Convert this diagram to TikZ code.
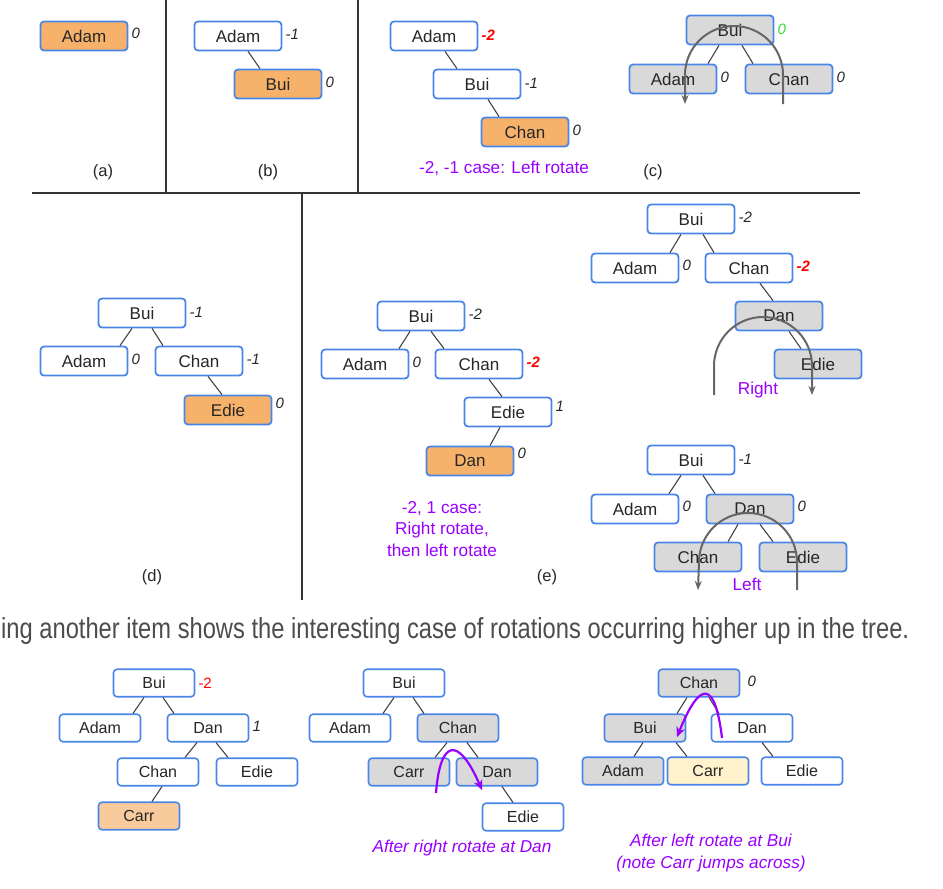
\documentclass[tikz,border=0pt]{standalone}
\usepackage{graphicx}
\usepackage{fontspec}
\setmainfont{Liberation Sans}
\usetikzlibrary{positioning,arrows.meta}
\definecolor{frame}{HTML}{4A86E8}
\definecolor{pumpkin}{HTML}{F6B26B}
\definecolor{peach}{HTML}{F9CB9C}
\definecolor{cream}{HTML}{FFF2CC}
\definecolor{shade}{HTML}{D9D9D9}
\definecolor{twistc}{HTML}{9900FF}
\definecolor{ink}{HTML}{434343}
\definecolor{turngray}{HTML}{666666}
\definecolor{okgreen}{HTML}{33DD33}
\tikzset{
  key/.style={draw=frame, line width=1.8pt, rounded corners=3.5pt, fill=white,
    minimum width=87pt, minimum height=29pt, inner sep=0pt, text=black!85,
    font=\fontsize{17}{19}\selectfont},
  small/.style={key, line width=1.6pt, minimum width=81pt, minimum height=27.5pt,
    font=\fontsize{16}{18}\selectfont},
  fresh/.style={fill=pumpkin},
  moved/.style={fill=shade},
  bal/.style={inner sep=0pt, text=black!85, font=\itshape\fontsize{15}{15}\selectfont},
  bad/.style={bal, text=red, font=\bfseries\itshape\fontsize{15}{15}\selectfont},
  lnk/.style={draw=ink, line width=1.1pt},
  turn/.style={draw=turngray, line width=2pt, -{Stealth[length=9pt,width=7pt]}},
  twist/.style={draw=twistc, line width=2.2pt, -{Stealth[length=10pt,width=9pt]}},
  note/.style={text=twistc, font=\fontsize{17.2}{21.5}\selectfont, align=center},
  pane/.style={draw=black!80, line width=1.6pt},
  tag/.style={text=black!85, font=\fontsize{16.5}{18}\selectfont}
}
\begin{document}
\begin{tikzpicture}[x=1pt,y=-1pt]
  \useasboundingbox (0,0) rectangle (943,889);
  \draw[pane] (166,0) -- (166,193);
  \draw[pane] (358,0) -- (358,193);
  \draw[pane] (32,193) -- (860,193);
  \draw[pane] (302,193) -- (302,600);

  % (a)
  \node[key, fresh] (adamA) at (84,36) {Adam};
  \node[bal, right=3pt of adamA, yshift=3pt] (adamAb) {0};
  \node[tag] (capA) at (103,172) {(a)};

  % (b)
  \node[key] (adamB) at (238,36) {Adam};
  \node[key, fresh] (buiB) at (278,84) {Bui};
  \node[bal, right=3pt of adamB, yshift=2pt] (adamBb) {-1};
  \node[bal, right=3pt of buiB, yshift=2pt] (buiBb) {0};
  \draw[lnk] ([xshift=10pt]adamB.south) -- ([xshift=-18pt]buiB.north);
  \node[tag] (capB) at (268,172) {(b)};

  % (c)
  \node[key] (adamC) at (434,36) {Adam};
  \node[key] (buiC) at (477,84) {Bui};
  \node[key, fresh] (chanC) at (525,132) {Chan};
  \node[bad, right=3pt of adamC, yshift=1pt] (adamCb) {-2};
  \node[bal, right=3pt of buiC, yshift=1pt] (buiCb) {-1};
  \node[bal, right=3pt of chanC, yshift=2pt] (chanCb) {0};
  \draw[lnk] ([xshift=11pt]adamC.south) -- ([xshift=-20pt]buiC.north);
  \draw[lnk] ([xshift=11pt]buiC.south) -- ([xshift=-26pt]chanC.north);
  \node[note] (whyC) at (504,168) {-2, -1 case: Left rotate};

  \node[key, moved] (buiC2) at (730,30) {Bui};
  \node[key, moved] (adamC2) at (673,79) {Adam};
  \node[key, moved] (chanC2) at (789,79) {Chan};
  \node[bal, right=3pt of buiC2, yshift=1pt, text=okgreen] (buiC2b) {0};
  \node[bal, right=3pt of adamC2, yshift=2pt] (adamC2b) {0};
  \node[bal, right=3pt of chanC2, yshift=2pt] (chanC2b) {0};
  \draw[lnk] ([xshift=-11pt]buiC2.south) -- ([xshift=35pt]adamC2.north);
  \draw[lnk] ([xshift=12pt]buiC2.south) -- ([xshift=-36pt]chanC2.north);
  \draw[turn] (783,104) -- (783,75) arc[start angle=0, end angle=180, radius=49pt] -- (685,104);
  \node[tag] (capC) at (653,172) {(c)};

  % (d)
  \node[key] (buiD) at (142,313) {Bui};
  \node[key] (adamD) at (84,361) {Adam};
  \node[key] (chanD) at (199,361) {Chan};
  \node[key, fresh] (edieD) at (228,410) {Edie};
  \node[bal, right=3pt of buiD, yshift=1pt] (buiDb) {-1};
  \node[bal, right=3pt of adamD, yshift=2pt] (adamDb) {0};
  \node[bal, right=3pt of chanD, yshift=2pt] (chanDb) {-1};
  \node[bal, right=3pt of edieD, yshift=7pt] (edieDb) {0};
  \draw[lnk] ([xshift=-10pt]buiD.south) -- ([xshift=36pt]adamD.north);
  \draw[lnk] ([xshift=10pt]buiD.south) -- ([xshift=-36pt]chanD.north);
  \draw[lnk] ([xshift=9pt]chanD.south) -- ([xshift=-6pt]edieD.north);
  \node[tag] (capD) at (152,577) {(d)};

  % (e)
  \node[key] (buiE) at (421,316) {Bui};
  \node[key] (adamE) at (365,364) {Adam};
  \node[key] (chanE) at (479,364) {Chan};
  \node[key] (edieE) at (508,412) {Edie};
  \node[key, fresh] (danE) at (470,461) {Dan};
  \node[bal, right=3pt of buiE, yshift=2pt] (buiEb) {-2};
  \node[bal, right=3pt of adamE, yshift=2pt] (adamEb) {0};
  \node[bad, right=3pt of chanE, yshift=2pt] (chanEb) {-2};
  \node[bal, right=3pt of edieE, yshift=6pt] (edieEb) {1};
  \node[bal, right=3pt of danE, yshift=8pt] (danEb) {0};
  \draw[lnk] ([xshift=-11pt]buiE.south) -- ([xshift=34pt]adamE.north);
  \draw[lnk] ([xshift=10pt]buiE.south) -- ([xshift=-35pt]chanE.north);
  \draw[lnk] ([xshift=10pt]chanE.south) -- ([xshift=-6pt]edieE.north);
  \draw[lnk] ([xshift=-8pt]edieE.south) -- ([xshift=20pt]danE.north);
  \node[note] (whyE) at (442,529) {-2, 1 case:\\ Right rotate,\\ then left rotate};
  \node[tag] (capE) at (547,577) {(e)};

  \node[key] (buiR) at (691,219) {Bui};
  \node[key] (adamR) at (635,268) {Adam};
  \node[key] (chanR) at (749,268) {Chan};
  \node[key, moved] (danR) at (779,316) {Dan};
  \node[key, moved] (edieR) at (818,364) {Edie};
  \node[bal, right=3pt of buiR, yshift=2pt] (buiRb) {-2};
  \node[bal, right=3pt of adamR, yshift=3pt] (adamRb) {0};
  \node[bad, right=3pt of chanR, yshift=2pt] (chanRb) {-2};
  \draw[lnk] ([xshift=-10pt]buiR.south) -- ([xshift=35pt]adamR.north);
  \draw[lnk] ([xshift=12pt]buiR.south) -- ([xshift=-35pt]chanR.north);
  \draw[lnk] ([xshift=11pt]chanR.south) -- ([xshift=-6pt]danR.north);
  \draw[lnk] ([xshift=10pt]danR.south) -- ([xshift=-17pt]edieR.north);
  \draw[turn] (714,395) -- (714,366) arc[start angle=180, end angle=0, radius=49pt] -- (812,395);
  \node[note] (rightR) at (758,390) {Right};

  \node[key] (buiL) at (691,460) {Bui};
  \node[key] (adamL) at (635,509) {Adam};
  \node[key, moved] (danL) at (750,509) {Dan};
  \node[key, moved] (chanL) at (698,557) {Chan};
  \node[key, moved] (edieL) at (803,557) {Edie};
  \node[bal, right=3pt of buiL, yshift=1pt] (buiLb) {-1};
  \node[bal, right=3pt of adamL, yshift=3pt] (adamLb) {0};
  \node[bal, right=3pt of danL, yshift=3pt] (danLb) {0};
  \draw[lnk] ([xshift=-10pt]buiL.south) -- ([xshift=34pt]adamL.north);
  \draw[lnk] ([xshift=12pt]buiL.south) -- ([xshift=-35pt]danL.north);
  \draw[lnk] ([xshift=-12pt]danL.south) -- ([xshift=30pt]chanL.north);
  \draw[lnk] ([xshift=10pt]danL.south) -- ([xshift=-30pt]edieL.north);
  \draw[turn] (797,590) -- (797,562) arc[start angle=0, end angle=180, radius=49pt] -- (698,590);
  \node[note] (leftL) at (747,584) {Left};

  % text between the parts
  \node[anchor=base west, inner sep=0pt, text=black!70] (caption) at (1,638)
    {\resizebox{908pt}{21pt}{\fontsize{27}{27}\selectfont ing another item shows the interesting case of rotations occurring higher up in the tree.}};

  % inserting Carr
  \node[small] (buiF) at (154,683) {Bui};
  \node[small] (adamF) at (100,728) {Adam};
  \node[small] (danF) at (208,728) {Dan};
  \node[small] (chanF) at (158,772) {Chan};
  \node[small] (edieF) at (257,772) {Edie};
  \node[small, fill=peach] (carrF) at (139,816) {Carr};
  \node[bal, right=3pt of buiF, font=\fontsize{15}{15}\selectfont, text=red] (buiFb) {-2};
  \node[bal, right=3pt of danF, yshift=2pt] (danFb) {1};
  \draw[lnk] ([xshift=-10pt]buiF.south) -- ([xshift=33pt]adamF.north);
  \draw[lnk] ([xshift=9pt]buiF.south) -- ([xshift=-34pt]danF.north);
  \draw[lnk] ([xshift=-11pt]danF.south) -- ([xshift=27pt]chanF.north);
  \draw[lnk] ([xshift=8pt]danF.south) -- ([xshift=-29pt]edieF.north);
  \draw[lnk] ([xshift=4pt]chanF.south) -- ([xshift=13pt]carrF.north);

  \node[small] (buiG) at (404,683) {Bui};
  \node[small] (adamG) at (350,728) {Adam};
  \node[small, moved] (chanG) at (458,728) {Chan};
  \node[small, moved] (carrG) at (409,772) {Carr};
  \node[small, moved] (danG) at (497,772) {Dan};
  \node[small] (edieG) at (523,817) {Edie};
  \draw[lnk] ([xshift=-10pt]buiG.south) -- ([xshift=33pt]adamG.north);
  \draw[lnk] ([xshift=9pt]buiG.south) -- ([xshift=-34pt]chanG.north);
  \draw[lnk] ([xshift=-11pt]chanG.south) -- ([xshift=26pt]carrG.north);
  \draw[lnk] ([xshift=9pt]chanG.south) -- ([xshift=-19pt]danG.north);
  \draw[lnk] ([xshift=5pt]danG.south) -- ([xshift=-10pt]edieG.north);
  \draw[twist] (436,793) .. controls (440,740) and (458,735) .. (482,790);
  \node[note, font=\itshape\fontsize{17.2}{21.5}\selectfont] (afterG) at (462,848) {After right rotate at Dan};

  \node[small, moved] (chanH) at (699,683) {Chan};
  \node[small, moved] (buiH) at (645,728) {Bui};
  \node[small] (danH) at (752,728) {Dan};
  \node[small, moved] (adamH) at (623,771) {Adam};
  \node[small, fill=cream] (carrH) at (708,771) {Carr};
  \node[small] (edieH) at (802,771) {Edie};
  \node[bal, right=7pt of chanH, yshift=2pt] (chanHb) {0};
  \draw[lnk] ([xshift=-12pt]chanH.south) -- ([xshift=32pt]buiH.north);
  \draw[lnk] ([xshift=10pt]chanH.south) -- ([xshift=-33pt]danH.north);
  \draw[lnk] ([xshift=-2pt]buiH.south) -- ([xshift=11pt]adamH.north);
  \draw[lnk] ([xshift=31pt]buiH.south) -- ([xshift=-21pt]carrH.north);
  \draw[lnk] ([xshift=10pt]danH.south) -- ([xshift=-29pt]edieH.north);
  \draw[twist] (722,738) .. controls (715,680) and (700,680) .. (677,737);
  \node[note, font=\itshape\fontsize{17.2}{21.5}\selectfont] (afterH) at (711,853) {After left rotate at Bui\\ (note Carr jumps across)};
\end{tikzpicture}
\end{document}
